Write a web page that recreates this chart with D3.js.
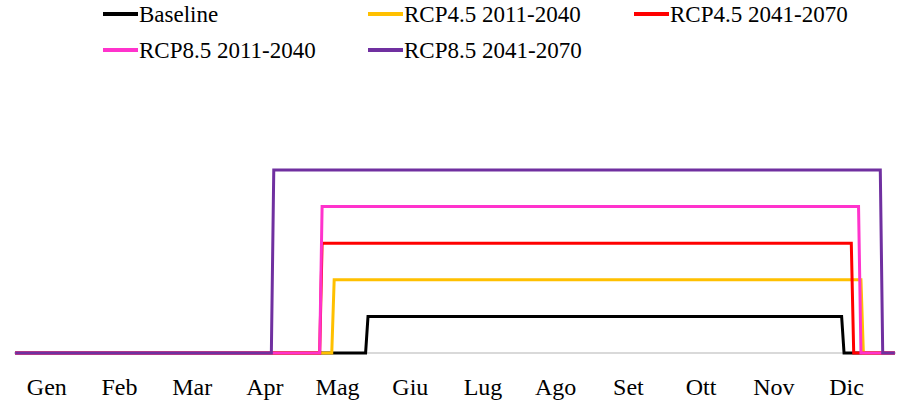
<!DOCTYPE html>
<html>
<head>
<meta charset="utf-8">
<script src="https://cdn.jsdelivr.net/npm/d3@7"></script>
<style>
  html, body { margin: 0; padding: 0; background: #fff; }
  svg { display: block; }
</style>
</head>
<body>
<svg id="chart" width="900" height="403"></svg>
<script>
// ---- Data ----
const months = ["Gen", "Feb", "Mar", "Apr", "Mag", "Giu", "Lug", "Ago", "Set", "Ott", "Nov", "Dic"];
const dayCount = 365;
const seriesNames = ["Baseline", "RCP4.5 2011-2040", "RCP4.5 2041-2070", "RCP8.5 2011-2040", "RCP8.5 2041-2070"];
const seriesColors = ["#000000", "#FFC000", "#FF0000", "#FF33CC", "#7030A0"];
// breakpoints: [day index, value]
const baseline   = [[0,0],[145,0],[146,1],[342,1],[343,0],[364,0]];
const rcp45_2011 = [[0,0],[131,0],[132,2],[350,2],[351,0],[364,0]];
const rcp45_2041 = [[0,0],[126,0],[127,3],[346,3],[347,0],[364,0]];
const rcp85_2011 = [[0,0],[126,0],[127,4],[349,4],[350,0],[364,0]];
const rcp85_2041 = [[0,0],[106,0],[107,5],[358,5],[359,0],[364,0]];
const seriesValues = [baseline, rcp45_2011, rcp45_2041, rcp85_2011, rcp85_2041];

const FONT = "'Liberation Serif', 'Times New Roman', 'DejaVu Serif', serif";
const svg = d3.select("#chart");

// ---- Scales ----
const x = d3.scaleLinear().domain([0, dayCount]).range([14, 896]);
const y = d3.scaleLinear().domain([0, 5]).range([353, 170]);
const xm = d3.scalePoint().domain(months).range([46.3, 846]);

// axis line
svg.append("line")
  .attr("x1", x.range()[0]).attr("x2", x.range()[1])
  .attr("y1", y(0)).attr("y2", y(0))
  .attr("stroke", "#D9D9D9").attr("stroke-width", 2);

// month labels
const ax = d3.axisBottom(xm).tickSize(0).tickPadding(0);
const labelG = svg.append("g").attr("transform", "translate(0,395)");
labelG.call(ax);
labelG.attr("font-family", FONT).attr("font-size", 24);
labelG.select(".domain").remove();
labelG.selectAll(".tick text")
  .attr("dy", 0).attr("y", 0)
  .attr("fill", "#000");

// lines
const line = d3.line().x(d => x(d[0] + 0.5)).y(d => y(d[1]));
seriesValues.forEach((vals, i) => {
  svg.append("path")
    .datum(vals)
    .attr("d", line)
    .attr("fill", "none")
    .attr("stroke", seriesColors[i])
    .attr("stroke-width", 3)
    .attr("stroke-linejoin", "miter");
});

// legend
const legendPos = [[103, 14], [368, 14], [634, 14], [103, 50], [368, 50]];
seriesNames.forEach((name, i) => {
  const [lx, ly] = legendPos[i];
  const g = svg.append("g").attr("transform", `translate(${lx},${ly})`);
  g.append("line").attr("x1", 0).attr("x2", 35).attr("y1", 0).attr("y2", 0)
    .attr("stroke", seriesColors[i]).attr("stroke-width", 4);
  g.append("text").attr("x", 36).attr("y", 8)
    .attr("font-family", FONT).attr("font-size", 23).attr("fill", "#000")
    .text(name);
});
</script>
</body>
</html>
